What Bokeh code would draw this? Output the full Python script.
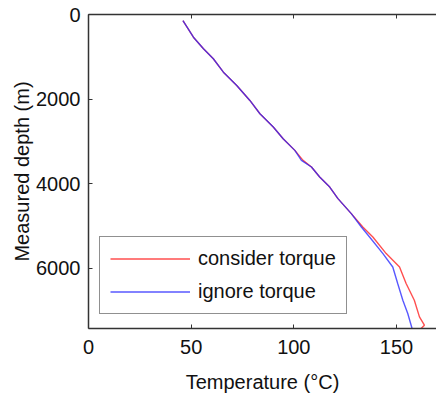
from bokeh.plotting import figure
from bokeh.models import Range1d, LinearAxis, FixedTicker, Legend, LegendItem, CustomJSTickFormatter
from bokeh.embed import file_html
from bokeh.resources import INLINE

# Data (depth in m, temperature in °C)
depth_shared = [142, 536, 810, 1047, 1363, 1677, 2032, 2346, 2662, 2937, 3213, 3449,
                3607, 3843, 4080, 4354, 4709]
temp_shared = [46.0, 51.1, 56.0, 60.8, 65.7, 72.2, 78.6, 83.5, 90.0, 94.8, 100.5, 103.9,
               108.6, 112.6, 117.5, 121.5, 128.0]

depth_consider_tail = [5025, 5261, 5654, 5970, 6362, 6756, 7150, 7347, 7425]
temp_consider_tail = [133.6, 138.5, 145.0, 151.5, 154.7, 158.7, 161.2, 163.6, 162.0]

depth_ignore_tail = [5025, 5261, 5654, 5970, 6362, 6756, 7071, 7425]
temp_ignore_tail = [132.9, 136.9, 143.4, 148.2, 150.6, 153.1, 155.5, 157.6]

depth_consider = depth_shared + depth_consider_tail
temp_consider = temp_shared[:11] + [104.5] + temp_shared[12:] + temp_consider_tail
depth_ignore = depth_shared + depth_ignore_tail
temp_ignore = temp_shared[:11] + [103.7] + temp_shared[12:] + temp_ignore_tail

x_ticks = [0, 50, 100, 150]
y_ticks = [0, 2000, 4000, 6000]
series_labels = ["consider torque", "ignore torque"]

FONT = "Liberation Sans"
AX = "#333333"

p = figure(width=436, height=398, output_backend="svg", toolbar_location=None,
           x_range=Range1d(0, 169.5), y_range=Range1d(7425, 0),
           min_border_left=88, min_border_right=0, min_border_top=14, min_border_bottom=70,
           x_axis_label="Temperature (°C)", y_axis_label="Measured depth (m)")
p.grid.visible = False
p.outline_line_color = None
p.background_fill_color = "white"
p.border_fill_color = "white"

for ax in (p.xaxis[0], p.yaxis[0]):
    ax.major_label_text_font = FONT
    ax.major_label_text_font_size = "20px"
    ax.major_label_text_color = "#111111"
    ax.axis_label_text_font = FONT
    ax.axis_label_text_font_size = "20px"
    ax.axis_label_text_font_style = "normal"
    ax.axis_label_text_color = "#111111"
    ax.axis_line_color = AX
    ax.axis_line_width = 1.5
    ax.major_tick_line_color = AX
    ax.major_tick_in = 4
    ax.major_tick_out = 0
    ax.minor_tick_line_color = None

p.xaxis[0].ticker = FixedTicker(ticks=x_ticks)
p.yaxis[0].ticker = FixedTicker(ticks=y_ticks)
p.xaxis[0].major_label_standoff = 11
p.xaxis[0].axis_label_standoff = 14
p.yaxis[0].major_label_standoff = 8
p.yaxis[0].axis_label_standoff = 0

top = LinearAxis(ticker=FixedTicker(ticks=x_ticks),
                 formatter=CustomJSTickFormatter(code="return ''"),
                 axis_line_color=AX, axis_line_width=1.5, major_tick_line_color=AX,
                 major_tick_in=4, major_tick_out=0, minor_tick_line_color=None,
                 major_label_standoff=0)
p.add_layout(top, "above")

r_red = p.line(temp_consider, depth_consider, line_color="#ff3030", line_width=1.4, line_alpha=0.85)
r_blue = p.line(temp_ignore, depth_ignore, line_color="#2020ff", line_width=1.4, line_alpha=0.75)

legend = Legend(items=[LegendItem(label=series_labels[0], renderers=[r_red]),
                       LegendItem(label=series_labels[1], renderers=[r_blue])],
                location=(11, 14), padding=10, spacing=10, glyph_width=80, glyph_height=23,
                label_height=23, label_standoff=8, margin=0,
                label_text_font=FONT, label_text_font_size="20px", label_text_color="#111111",
                border_line_color="#222222", border_line_width=1.3,
                background_fill_color="white", background_fill_alpha=1.0)
p.add_layout(legend, "center")

open("out.html", "w").write(file_html(p, INLINE))
